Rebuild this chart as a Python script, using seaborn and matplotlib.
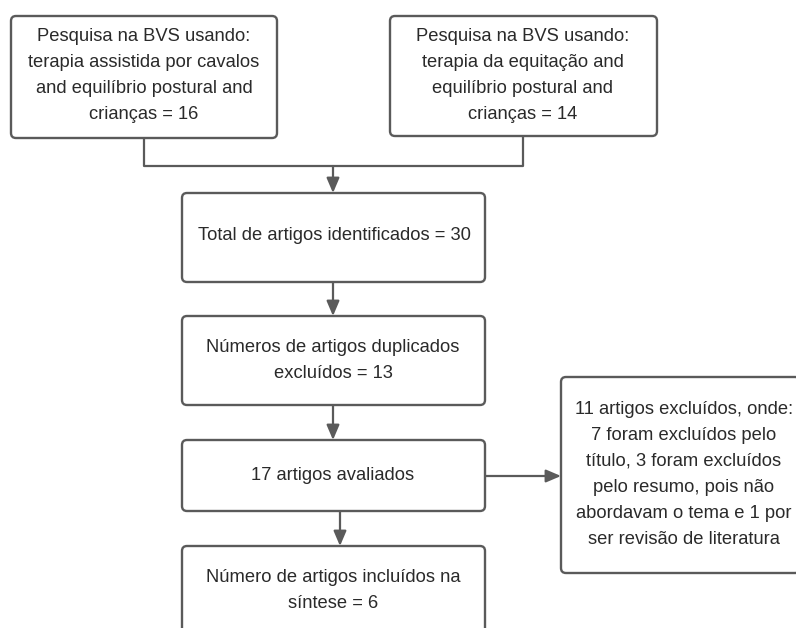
import matplotlib
matplotlib.use('Agg')
import matplotlib.pyplot as plt
from matplotlib.patches import FancyBboxPatch
import seaborn as sns

sns.set_theme(style='white')
plt.rcParams['font.family'] = ['Liberation Sans', 'DejaVu Sans']

# textos de cada caixa do fluxograma
busca_cavalos = ['Pesquisa na BVS usando:', 'terapia assistida por cavalos',
                 'and equilíbrio postural and', 'crianças = 16']
busca_equitacao = ['Pesquisa na BVS usando:', 'terapia da equitação and',
                   'equilíbrio postural and', 'crianças = 14']
total_ident = ['Total de artigos identificados = 30']
duplicados = ['Números de artigos duplicados', 'excluídos = 13']
avaliados = ['17 artigos avaliados']
excluidos = ['11 artigos excluídos, onde:', '7 foram excluídos pelo',
             'título, 3 foram excluídos', 'pelo resumo, pois não',
             'abordavam o tema e 1 por', 'ser revisão de literatura']
incluidos = ['Número de artigos incluídos na', 'síntese = 6']

LINE = '#5a5a5a'
TXT = '#2a2a2a'
LH = 26  # altura de linha (px)

fig = plt.figure(figsize=(7.96, 6.28), dpi=100)
ax = fig.add_axes([0, 0, 1, 1])
ax.set_xlim(0, 796)
ax.set_ylim(628, 0)
ax.axis('off')

# (x0, y0, x1, y1, centro x, centro y do texto)
caixas = [
    (11, 16, 277, 138, 144, 75.5, busca_cavalos),
    (390, 16, 657, 136, 523, 75.5, busca_equitacao),
    (182, 193, 485, 282, 334, 236, total_ident),
    (182, 316, 485, 405, 333, 360.5, duplicados),
    (182, 440, 485, 511, 333, 476, avaliados),
    (182, 546, 485, 660, 333, 591, incluidos),
    (561, 377, 800, 573, 684, 474, excluidos),
]

for x0, y0, x1, y1, cx, cy, linhas in caixas:
    ax.add_patch(FancyBboxPatch((x0, y0), x1 - x0, y1 - y0,
                                boxstyle='round,pad=0,rounding_size=5',
                                fc='white', ec=LINE, lw=1.7, zorder=2))
    n = len(linhas)
    for i, t in enumerate(linhas):
        y = cy + (i - (n - 1) / 2) * LH
        ax.text(cx, y, t, ha='center', va='center', fontsize=13.2,
                color=TXT, zorder=3)

def seta(x0, y0, x1, y1):
    ax.annotate('', xy=(x1, y1), xytext=(x0, y0),
                arrowprops=dict(arrowstyle='-|>,head_length=0.75,head_width=0.32',
                                color=LINE, lw=1.6, shrinkA=0, shrinkB=0),
                zorder=1)

# conector das duas buscas
ax.plot([144, 144, 523, 523], [138, 166, 166, 136], color=LINE, lw=1.6,
        solid_joinstyle='round', zorder=1)
seta(333, 166, 333, 193)
seta(333, 282, 333, 316)
seta(333, 405, 333, 440)
seta(340, 511, 340, 546)
seta(485, 476, 561, 476)

fig.savefig('out.png', dpi=100)
